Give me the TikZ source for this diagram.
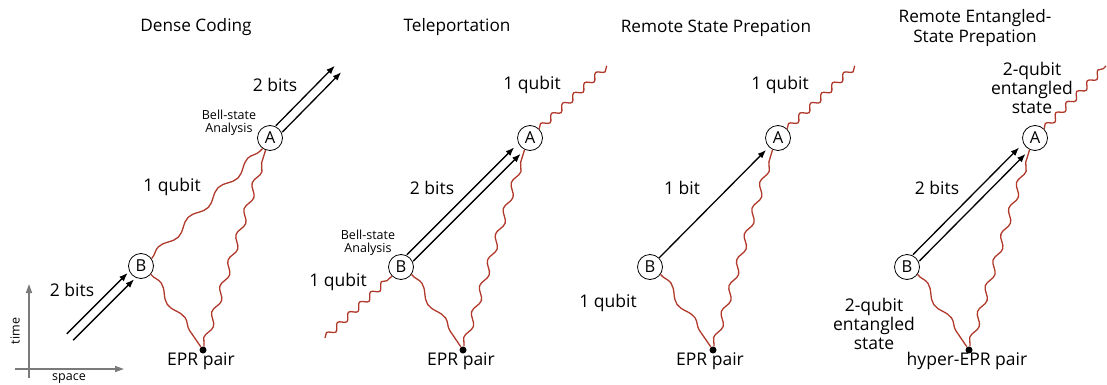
\documentclass[tikz,border=0pt]{standalone}
\usepackage{fontspec}
\setmainfont{Open Sans}
\usetikzlibrary{decorations.pathmorphing,arrows.meta,calc}
\definecolor{qred}{HTML}{B0392B}
\definecolor{axgray}{HTML}{7A7A7A}
\begin{document}
\begin{tikzpicture}[x=1pt,y=-1pt,
  party/.style={circle,draw,line width=0.8pt,fill=white,minimum size=25pt,inner sep=0pt,font=\fontsize{16.5}{16.5}\selectfont},
  epr/.style={circle,fill=black,inner sep=0pt,minimum size=7pt},
  lbl/.style={font=\fontsize{17.5}{19}\selectfont,align=center,inner sep=0pt},
  small/.style={font=\fontsize{12.5}{13}\selectfont,align=center,inner sep=0pt},
  ttl/.style={font=\fontsize{17.2}{20}\selectfont,align=center,inner sep=0pt},
  bit/.style={line width=1.3pt,-{Latex[length=8.5pt,width=6.5pt]}},
  qwave/.style={qred,line width=1.3pt,decorate,decoration={snake,segment length=15pt,amplitude=3pt}},
  midwave/.style={qred,line width=1.3pt,decorate,decoration={snake,segment length=27pt,amplitude=3pt}},
  bigwave/.style={qred,line width=1.3pt,decorate,decoration={snake,segment length=42pt,amplitude=3.6pt}},
  axis/.style={axgray,line width=1.5pt,-{Triangle[length=9pt,width=6pt]}},
  up/.style={shift={(-3.2,-3.2)}},
  dn/.style={shift={(3.2,3.2)}}
]
\useasboundingbox (0,0) rectangle (1107,385);

% ---------- axes ----------
\coordinate (t0) at (29,378);
\coordinate (t1) at (29,284);
\coordinate (s0) at (15,369);
\coordinate (s1) at (124,369);
\draw[axis] (t0) -- (t1);
\draw[axis] (s0) -- (s1);
\node[small,rotate=90] (timel) at (15,331) {time};
\node[small] (spacel) at (69,379) {space};

% ---------- Panel 1: Dense Coding ----------
\node[ttl] (T1) at (196,27) {Dense Coding};
\node[party] (B1) at (141,266) {B};
\node[party] (A1) at (270,138) {A};
\node[epr] (E1) at (203,350) {};
\coordinate (S1) at (70,337);
\coordinate (D1) at (338,69);
\draw[bit,shorten >=1.5pt] ([up]S1) -- ([up]B1.225);
\draw[bit,shorten >=1.5pt] ([dn]S1) -- ([dn]B1.225);
\draw[bit] ([up]A1.45) -- ([up]D1);
\draw[bit] ([dn]A1.45) -- ([dn]D1);
\draw[bigwave] (B1.35) -- (A1.235);
\draw[midwave] (E1) -- (A1.250);
\draw[bigwave] (B1.-40) -- (E1);
\node[lbl] (l1a) at (72,290) {2 bits};
\node[lbl] (l1b) at (172,187) {1 qubit};
\node[lbl] (l1c) at (275,85) {2 bits};
\node[small] (l1d) at (229,123) {Bell-state\\Analysis};
\node[lbl] (l1e) at (201,361) {EPR pair};

% ---------- Panel 2: Teleportation ----------
\node[ttl] (T2) at (457,27) {Teleportation};
\node[party] (B2) at (401,267) {B};
\node[party] (A2) at (530,138) {A};
\node[epr] (E2) at (463,350) {};
\coordinate (S2) at (325,338);
\coordinate (D2) at (607,66);
\draw[bit,shorten >=5pt] ([up]B2.45) -- ([up]A2.225);
\draw[bit,shorten >=5pt] ([dn]B2.45) -- ([dn]A2.225);
\draw[qwave] (S2) -- (B2.225);
\draw[qwave] (A2.45) -- (D2);
\draw[midwave] (E2) -- (A2.245);
\draw[bigwave] (B2.-35) -- (E2);
\node[lbl] (l2a) at (338,282) {1 qubit};
\node[small] (l2b) at (368,243) {Bell-state\\Analysis};
\node[lbl] (l2c) at (432,188) {2 bits};
\node[lbl] (l2d) at (532,85) {1 qubit};
\node[lbl] (l2e) at (461,361) {EPR pair};

% ---------- Panel 3: Remote State Prepation ----------
\node[ttl] (T3) at (716,28) {Remote State Prepation};
\node[party] (B3) at (650,267) {B};
\node[party] (A3) at (778,138) {A};
\node[epr] (E3) at (713,350) {};
\coordinate (D3) at (855,66);
\draw[bit,shorten >=4pt] (B3.45) -- (A3.225);
\draw[qwave] (A3.45) -- (D3);
\draw[midwave] (E3) -- (A3.245);
\draw[bigwave] (B3.-35) -- (E3);
\node[lbl] (l3a) at (682,188) {1 bit};
\node[lbl] (l3b) at (780,85) {1 qubit};
\node[lbl] (l3c) at (608,303) {1 qubit};
\node[lbl] (l3d) at (710,361) {EPR pair};

% ---------- Panel 4: Remote Entangled-State Prepation ----------
\node[ttl] (T4) at (975,28) {Remote Entangled-\\State Prepation};
\node[party] (B4) at (907,267) {B};
\node[party] (A4) at (1035,138) {A};
\node[epr] (E4) at (969,350) {};
\coordinate (D4) at (1106,66);
\draw[bit,shorten >=5pt] ([up]B4.45) -- ([up]A4.225);
\draw[bit,shorten >=5pt] ([dn]B4.45) -- ([dn]A4.225);
\draw[qwave] (A4.45) -- (D4);
\draw[midwave] (E4) -- (A4.245);
\draw[bigwave] (B4.-35) -- (E4);
\node[lbl] (l4a) at (1032,88) {2-qubit\\entangled\\state};
\node[lbl] (l4b) at (937,188) {2 bits};
\node[lbl] (l4c) at (874,324) {2-qubit\\entangled\\state};
\node[lbl] (l4d) at (967,361) {hyper-EPR pair};
\end{tikzpicture}
\end{document}
